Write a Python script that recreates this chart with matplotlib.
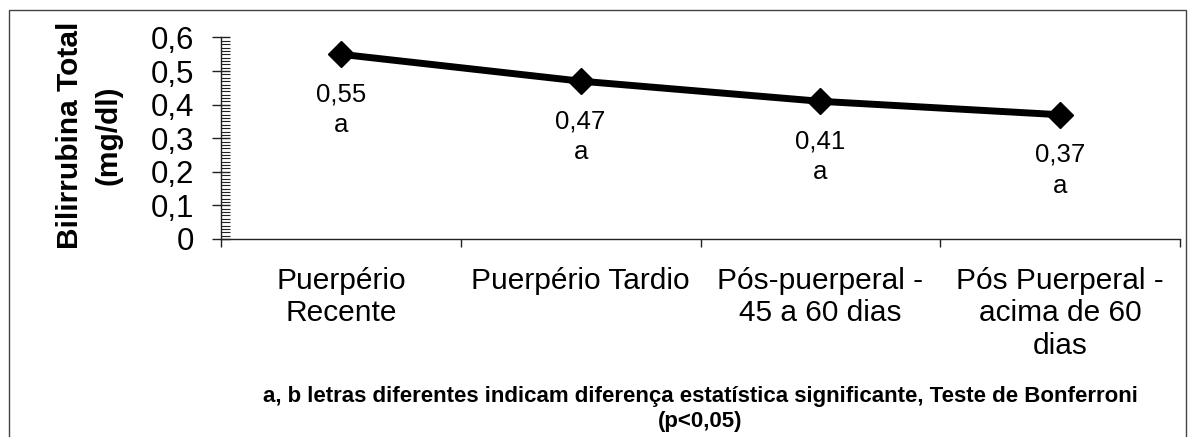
import matplotlib
matplotlib.use("Agg")
import matplotlib.pyplot as plt
from matplotlib.patches import Rectangle
from matplotlib.ticker import MultipleLocator, FixedLocator

categories = ["Puerpério\nRecente", "Puerpério Tardio", "Pós-puerperal -\n45 a 60 dias",
              "Pós Puerperal -\nacima de 60\ndias"]
values = [0.55, 0.47, 0.41, 0.37]
value_labels = ["0,55", "0,47", "0,41", "0,37"]
letters = ["a", "a", "a", "a"]
yticks = [0, 0.1, 0.2, 0.3, 0.4, 0.5, 0.6]
ytick_labels = ["0", "0,1", "0,2", "0,3", "0,4", "0,5", "0,6"]
ylabel = "Bilirrubina Total\n(mg/dl)"
note = "a, b letras diferentes indicam diferença estatística significante, Teste de Bonferroni\n(p<0,05)"

plt.rcParams['font.family'] = ['Liberation Sans', 'DejaVu Sans']

W, H = 1196, 437
fig = plt.figure(figsize=(W / 100, H / 100), dpi=100)
ax = fig.add_axes([221 / W, 1 - 239 / H, (1180 - 221) / W, (239 - 37.5) / H])

x = list(range(len(values)))
ax.plot(x, values, color='black', lw=5, marker='D', ms=13, mfc='black', mec='black',
        solid_joinstyle='miter', zorder=3)

for xi, v, vl, lt in zip(x, values, value_labels, letters):
    ax.annotate(vl + "\n" + lt, (xi, v), xytext=(0, -40), textcoords='offset points',
                ha='center', va='center', fontsize=18.5, linespacing=1.35)

ax.set_xlim(-0.5, len(values) - 0.5)
ax.set_ylim(0, 0.6)

ax.spines['top'].set_visible(False)
ax.spines['right'].set_visible(False)
for s in ('left', 'bottom'):
    ax.spines[s].set_color('#222222')
    ax.spines[s].set_linewidth(1.0)

ax.set_yticks(yticks)
ax.set_yticklabels(ytick_labels, fontsize=22.5)
ax.yaxis.set_minor_locator(MultipleLocator(0.01))
ax.tick_params(axis='y', which='major', direction='inout', length=13, width=1.0,
               color='#222222', pad=13)
ax.tick_params(axis='y', which='minor', direction='in', length=6.5, width=0.8,
               color='#222222')

ax.xaxis.set_major_locator(FixedLocator([i - 0.5 for i in range(len(values) + 1)]))
ax.xaxis.set_major_formatter(plt.NullFormatter())
ax.xaxis.set_minor_locator(FixedLocator(x))
ax.set_xticklabels(categories, minor=True, fontsize=21.5, linespacing=1.2)
ax.tick_params(axis='x', which='major', direction='out', length=6, width=1.0, color='#222222')
ax.tick_params(axis='x', which='minor', length=0, pad=20)

fig.text(89 / W, 1 - 135 / H, ylabel, rotation=90, ha='center', va='center',
         fontsize=21.5, fontweight='bold', multialignment='center', linespacing=1.5)

fig.text(700 / W, 1 - 409 / H, note, ha='center', va='center', fontsize=16,
         fontweight='bold', multialignment='center', linespacing=1.3)

fig.patches.append(Rectangle((9 / W, -0.1), (1186 - 9) / W, 1.1 - 10 / H,
                             transform=fig.transFigure, fill=False, edgecolor='#444444',
                             lw=1.0))

fig.savefig("out.png", dpi=100)
